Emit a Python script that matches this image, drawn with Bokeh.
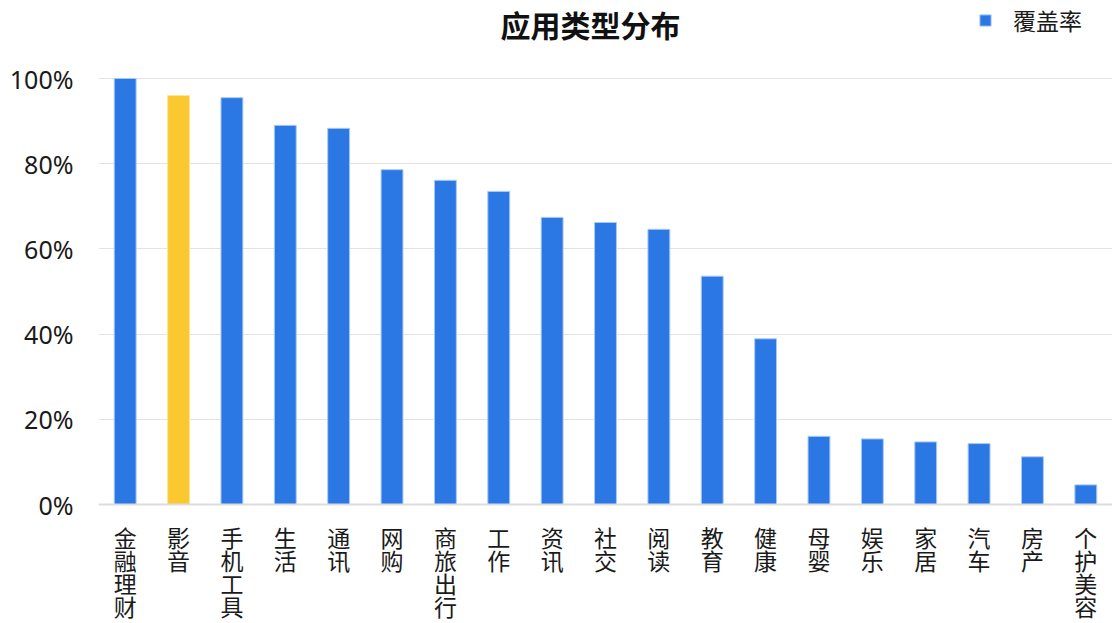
from bokeh.plotting import figure
from bokeh.models import (ColumnDataSource, FactorRange, Range1d, FixedTicker,
                          PrintfTickFormatter, Legend, LegendItem, Label, Span)
from bokeh.core.properties import value
from bokeh.embed import file_html
from bokeh.resources import INLINE

# App category coverage (%)
categories = ["金融理财", "影音", "手机工具", "生活", "通讯", "网购", "商旅出行", "工作",
              "资讯", "社交", "阅读", "教育", "健康", "母婴", "娱乐", "家居", "汽车",
              "房产", "个护美容"]
coverage = [100.0, 96.0, 95.5, 89.0, 88.3, 78.6, 76.1, 73.5, 67.4, 66.2, 64.6,
            53.6, 38.9, 16.0, 15.4, 14.7, 14.3, 11.2, 4.6]
highlight = "影音"
y_ticks = [0, 20, 40, 60, 80, 100]
title_text = "应用类型分布"
series_name = "覆盖率"

BLUE = "#2b78e4"
YELLOW = "#fbc82f"
CJK = "Noto Sans CJK SC"
TEXT = "#1a1a1a"

W, H = 1112, 623
LEFT = 98          # left border for the y tick labels
ZERO_PX = 504      # page row of the 0% line
FULL_PX = 78       # page row of the 100% line
px_per_unit = (ZERO_PX - FULL_PX) / 100.0
y_lo = -(H - ZERO_PX) / px_per_unit
y_hi = ZERO_PX / px_per_unit

colors = [YELLOW if c == highlight else BLUE for c in categories]
borders = ["#fde59a" if c == highlight else "#a9c9f4" for c in categories]
source = ColumnDataSource(dict(cat=categories, val=coverage, color=colors, border=borders))

# The frame covers the full page height so that the stacked category labels,
# the title and the legend can all be drawn inside it.
p = figure(x_range=FactorRange(factors=categories, range_padding=0),
           y_range=Range1d(y_lo, y_hi),
           width=W, height=H, output_backend="svg", toolbar_location=None,
           x_axis_location=None,
           min_border_left=LEFT, min_border_right=0, min_border_top=0, min_border_bottom=0)
p.outline_line_color = None
p.background_fill_color = "white"
p.border_fill_color = "white"

bars = p.vbar(x="cat", top="val", bottom=0, width=0.41, source=source,
              fill_color="color", line_color="border", line_width=1)

# y axis
p.yaxis.ticker = FixedTicker(ticks=y_ticks)
p.yaxis.formatter = PrintfTickFormatter(format="%d%%")
p.yaxis.axis_line_color = None
p.yaxis.major_tick_line_color = None
p.yaxis.minor_tick_line_color = None
p.yaxis.major_label_text_font = "Noto Sans"
p.yaxis.major_label_text_font_size = "25px"
p.yaxis.major_label_text_color = TEXT
p.yaxis.major_label_standoff = 19

p.xgrid.grid_line_color = None
p.ygrid.grid_line_color = "#e3e3e3"
p.ygrid.grid_line_width = 1

# baseline of the category axis
p.add_layout(Span(location=0, dimension="width", line_color="#dcdcdc", line_width=2))

# category labels, one character per row
row_step = 23.0 / px_per_unit
first_row = -(536 - ZERO_PX) / px_per_unit
lx, ly, lt = [], [], []
for c in categories:
    for i, ch in enumerate(c):
        lx.append(c)
        ly.append(first_row - i * row_step)
        lt.append(ch)
p.text(x=lx, y=ly, text=lt, text_align="center", text_baseline="middle",
       text_font=value(CJK), text_font_size="23px", text_line_height=1.0,
       text_color=TEXT)

# title
title = Label(x=9.22, y=(ZERO_PX - 1) / px_per_unit, text=title_text, text_align="center",
              text_baseline="top", text_font=CJK, text_font_size="30px",
              text_font_style="bold", text_color="#111111")
p.add_layout(title)

legend = Legend(items=[LegendItem(label=series_name, renderers=[bars])],
                location=(880, H - 37), orientation="horizontal",
                glyph_width=14, glyph_height=14, label_standoff=21,
                label_text_font=CJK, label_text_font_size="23px",
                label_text_color=TEXT, padding=0, margin=0,
                border_line_color=None, background_fill_alpha=0)
p.add_layout(legend, "center")

open("out.html", "w").write(file_html(p, INLINE))
